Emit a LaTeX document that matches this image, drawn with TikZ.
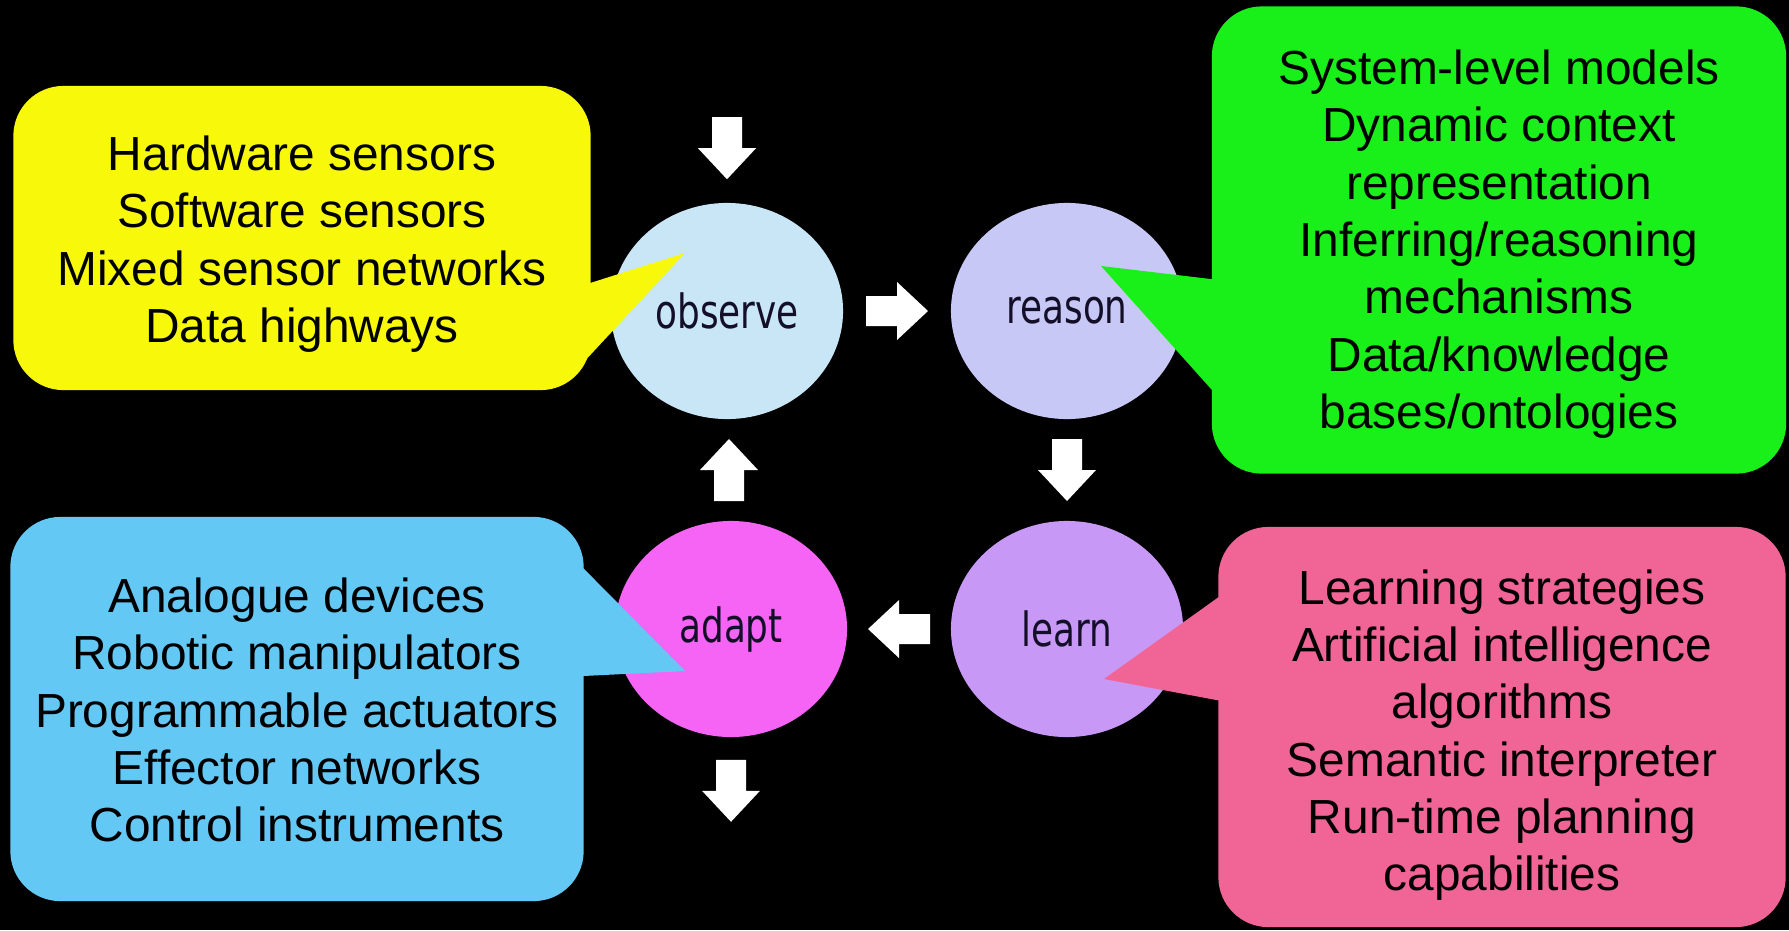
\documentclass[tikz,border=0pt]{standalone}
\usepackage{fontspec}
\setmainfont{Liberation Sans}
\newfontfamily\circfont[FakeStretch=0.76]{DejaVu Sans}
\usetikzlibrary{shapes.geometric,calc}

\definecolor{cyel}{RGB}{248,248,10}
\definecolor{cgreen}{RGB}{25,240,25}
\definecolor{cblue}{RGB}{100,200,245}
\definecolor{cpink}{RGB}{240,100,150}
\definecolor{cobs}{RGB}{200,230,246}
\definecolor{crea}{RGB}{200,200,246}
\definecolor{clea}{RGB}{200,152,246}
\definecolor{cada}{RGB}{245,100,245}
\definecolor{ctxt}{RGB}{20,15,40}

\begin{document}
\begin{tikzpicture}[x=0.01cm,y=-0.01cm,
  stage/.style={ellipse, minimum width=2.32cm, minimum height=2.16cm, inner sep=0pt,
    font=\circfont\fontsize{13.4}{15}\selectfont, text=ctxt},
  bubble/.style={rounded corners=0.5cm, inner sep=0pt},
  btext/.style={align=center, inner sep=0pt, font=\fontsize{13.6}{16.3}\selectfont, text=black},
  barrow/.pic={\fill[white] (-31,-15) -- (0,-15) -- (0,-29) -- (31,0) -- (0,29) -- (0,15) -- (-31,15) -- cycle;}
]
\fill[black] (0,0) rectangle (1789,930);
\useasboundingbox (0,0) rectangle (1789,930);

% bubbles
\node[bubble, fill=cyel, minimum width=5.77cm, minimum height=3.04cm] (yb) at (302,238) {};
\node[bubble, fill=cgreen, minimum width=5.74cm, minimum height=4.67cm] (gb) at (1499,240) {};
\node[bubble, fill=cblue, minimum width=5.73cm, minimum height=3.84cm] (bb) at (297,709) {};
\node[bubble, fill=cpink, minimum width=5.67cm, minimum height=4.00cm] (pb) at (1502,727) {};

% stages
\node[stage, fill=cobs] (obs) at (727,311) {observe};
\node[stage, fill=crea] (rea) at (1067,311) {reason};
\node[stage, fill=clea] (lea) at (1067,629) {learn};
\node[stage, fill=cada] (ada) at (731,629) {adapt};

% tails
\fill[cyel] ($(yb.north east)+(-5,199)$) -- ($(obs.center)+(-42,-58)$) -- ($(yb.north east)+(-5,274)$) -- cycle;
\fill[cgreen] ($(gb.north west)+(5,274)$) -- ($(rea.center)+(34,-45)$) -- ($(gb.north west)+(5,389)$) -- cycle;
\fill[cblue] ($(bb.north east)+(-5,48)$) -- ($(ada.center)+(-46,42)$) -- ($(bb.north east)+(-5,160)$) -- cycle;
\fill[cpink] ($(pb.north west)+(5,68)$) -- ($(lea.center)+(37,50)$) -- ($(pb.north west)+(5,175)$) -- cycle;

% bubble texts
\node[btext] (yt) at ($(yb.center)+(0,6)$)
  {Hardware sensors\\Software sensors\\Mixed sensor networks\\Data highways};
\node[btext] (gt) at ($(gb.center)+(0,4)$)
  {System-level models\\Dynamic context\\representation\\Inferring/reasoning\\mechanisms\\Data/knowledge\\bases/ontologies};
\node[btext] (bt) at ($(bb.center)+(0,1)$)
  {Analogue devices\\Robotic manipulators\\Programmable actuators\\Effector networks\\Control instruments};
\node[btext] (pt) at ($(pb.center)+(0,8)$)
  {Learning strategies\\Artificial intelligence\\algorithms\\Semantic interpreter\\Run-time planning\\capabilities};

% block arrows
\coordinate (intop) at ($(obs.north)+(0,-54)$);
\coordinate (outbot) at ($(ada.south)+(0,53)$);
\pic[rotate=-90] at (intop) {barrow};
\pic[rotate=0] at ($(obs.east)!0.5!(rea.west)$) {barrow};
\pic[rotate=-90] at ($(rea.south)!0.5!(lea.north)$) {barrow};
\pic[rotate=180] at ($(lea.west)!0.5!(ada.east)$) {barrow};
\pic[rotate=90] at ($(ada.north)!0.5!(obs.south)$) {barrow};
\pic[rotate=-90] at (outbot) {barrow};
\end{tikzpicture}
\end{document}
